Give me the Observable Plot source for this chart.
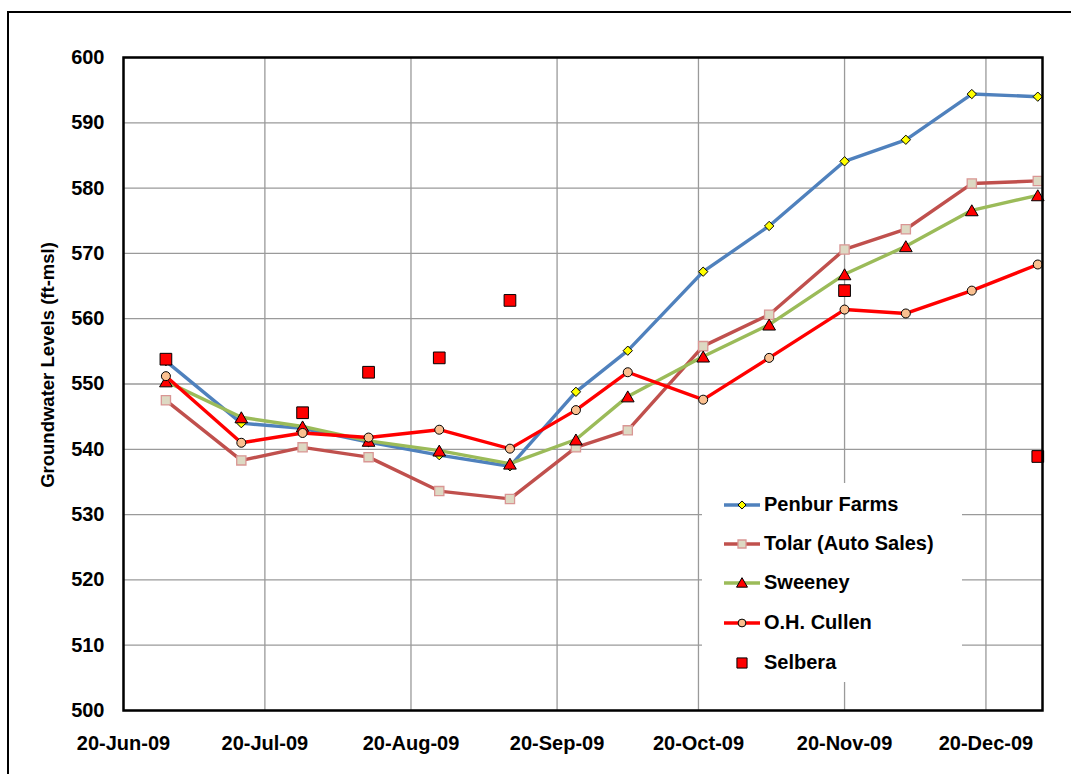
<!DOCTYPE html>
<html><head><meta charset="utf-8">
<script src="https://cdn.jsdelivr.net/npm/d3@7"></script>
<script src="https://cdn.jsdelivr.net/npm/@observablehq/plot@0.6"></script>
<style>
html,body{margin:0;padding:0;background:#fff;overflow:hidden;}
body{width:1071px;height:774px;position:relative;font-family:"Liberation Sans",Arial,sans-serif;font-weight:bold;color:#000;}
#frame{position:absolute;left:7px;top:11px;width:1100px;height:800px;border:2px solid #000;box-sizing:border-box;}
#chart{position:absolute;left:0;top:0;}
#ylabel{position:absolute;left:48px;top:365px;transform:translate(-50%,-50%) rotate(-90deg);font-size:18.5px;white-space:nowrap;}
#legend{position:absolute;left:702px;top:483px;width:260px;height:199px;background:#fff;}
.row{position:absolute;left:0;height:30px;width:260px;}
.row svg{position:absolute;left:21px;top:7px;}
.row span{position:absolute;left:62px;top:3px;font-size:20px;white-space:nowrap;}
</style></head>
<body>
<div id="frame"></div>
<div id="chart"></div>
<div id="ylabel">Groundwater Levels (ft-msl)</div>
<div id="legend"></div>
<script>
const dates = ["2009-06-29","2009-07-15","2009-07-28","2009-08-11","2009-08-26","2009-09-10","2009-09-24","2009-10-05","2009-10-21","2009-11-04","2009-11-20","2009-12-03","2009-12-17","2009-12-31"];
const penbur  = [553.5, 544.0, 543.2, 541.1, 539.1, 537.4, 548.8, 555.1, 567.2, 574.2, 584.1, 587.4, 594.4, 594.0];
const tolar   = [547.5, 538.3, 540.3, 538.8, 533.6, 532.4, 540.3, 542.9, 555.8, 560.6, 570.6, 573.7, 580.7, 581.1];
const sweeney = [550.4, 544.9, 543.5, 541.3, 539.8, 537.8, 541.5, 548.1, 554.2, 559.1, 566.8, 571.1, 576.6, 578.9];
const cullen  = [551.2, 541.0, 542.5, 541.8, 543.0, 540.1, 546.0, 551.8, 547.6, 554.0, 561.4, 560.8, 564.3, 568.3];
const selberaDates  = ["2009-06-29","2009-07-28","2009-08-11","2009-08-26","2009-09-10","2009-11-20","2009-12-31"];
const selbera = [553.8, 545.6, 551.8, 554.0, 562.8, 564.3, 538.9];
const xTickDates = ["2009-06-20","2009-07-20","2009-08-20","2009-09-20","2009-10-20","2009-11-20","2009-12-20"];
const yTicks = [500,510,520,530,540,550,560,570,580,590,600];
const seriesNames = ["Penbur Farms","Tolar (Auto Sales)","Sweeney","O.H. Cullen","Selbera"];

const parse = d3.utcParse("%Y-%m-%d");
const mk = (ds, vals) => ds.map((d,i)=>({date:parse(d), value:vals[i]}));
const P = mk(dates, penbur), T = mk(dates, tolar), S = mk(dates, sweeney), C = mk(dates, cullen), SB = mk(selberaDates, selbera);
const xTicks = xTickDates.map(parse);

const styles = {
  penbur:  {line:"#4F81BD", symbol:"diamond2", r:4.2, fill:"#FFFF00", stroke:"#000", sw:1},
  tolar:   {line:"#C0504D", symbol:"square", r:5.2, fill:"#DDD9C3", stroke:"#D99694", sw:1.3},
  sweeney: {line:"#9BBB59", symbol:"triangle", r:4.7, fill:"#FF0000", stroke:"#000", sw:1, dy:1.8},
  cullen:  {line:"#FF0000", symbol:"circle", r:4.5, fill:"#FAC090", stroke:"#000", sw:1},
  selbera: {line:null, symbol:"square", r:6.6, fill:"#FF0000", stroke:"#000", sw:1}
};

function seriesMarks(data, st){
  const m = [];
  if (st.line) m.push(Plot.line(data,{x:"date",y:"value",stroke:st.line,strokeWidth:3.4,strokeLinejoin:"round"}));
  m.push(Plot.dot(data,{x:"date",y:"value",symbol:()=>st.symbol,r:st.r,fill:st.fill,stroke:st.stroke,strokeWidth:st.sw,dy:st.dy||0}));
  return m;
}

const chart = Plot.plot({
  width:1071, height:774,
  marginLeft:123, marginTop:57, marginRight:29, marginBottom:64,
  style:{fontFamily:'"Liberation Sans", Arial, sans-serif', fontSize:"20px", fontWeight:"bold", color:"#000", background:"transparent", overflow:"visible"},
  symbol:{type:"identity"},
  x:{type:"utc", domain:[parse("2009-06-20"), parse("2010-01-01")], ticks:xTicks, tickFormat:d3.utcFormat("%d-%b-%y"), tickSize:0, tickPadding:25, label:null},
  y:{domain:[500,600], ticks:yTicks, tickSize:0, tickPadding:19, label:null},
  marks:[
    Plot.gridX(xTicks,{stroke:"#9a9a9a", strokeOpacity:1, strokeWidth:1.3}),
    Plot.gridY(yTicks,{stroke:"#9a9a9a", strokeOpacity:1, strokeWidth:1.3}),
    ...seriesMarks(P, styles.penbur),
    ...seriesMarks(T, styles.tolar),
    ...seriesMarks(S, styles.sweeney),
    ...seriesMarks(C, styles.cullen),
    ...seriesMarks(SB, styles.selbera),
    Plot.frame({stroke:"#000", strokeWidth:2.5})
  ]
});
document.getElementById("chart").appendChild(chart);

// legend
const legend = d3.select("#legend");
const keys = ["penbur","tolar","sweeney","cullen","selbera"];
const symMap = {diamond2:d3.symbolDiamond2, square:d3.symbolSquare, triangle:d3.symbolTriangle, circle:d3.symbolCircle};
const rowCenters = [22, 61, 100, 140, 180];
keys.forEach((k,i)=>{
  const st = styles[k];
  const row = legend.append("div").attr("class","row").style("top",(rowCenters[i]-15)+"px");
  const svg = row.append("svg").attr("width",38).attr("height",16);
  if (st.line) svg.append("line").attr("x1",1).attr("x2",37).attr("y1",8).attr("y2",8).attr("stroke",st.line).attr("stroke-width",3.4);
  svg.append("path").attr("transform",`translate(19,${8+(st.dy?1:0)})`)
    .attr("d", d3.symbol(symMap[st.symbol], Math.PI*st.r*st.r*(k==="selbera"?0.75:0.75))())
    .attr("fill",st.fill).attr("stroke",st.stroke).attr("stroke-width",st.sw);
  row.append("span").text(seriesNames[i]);
});
</script>
</body></html>
